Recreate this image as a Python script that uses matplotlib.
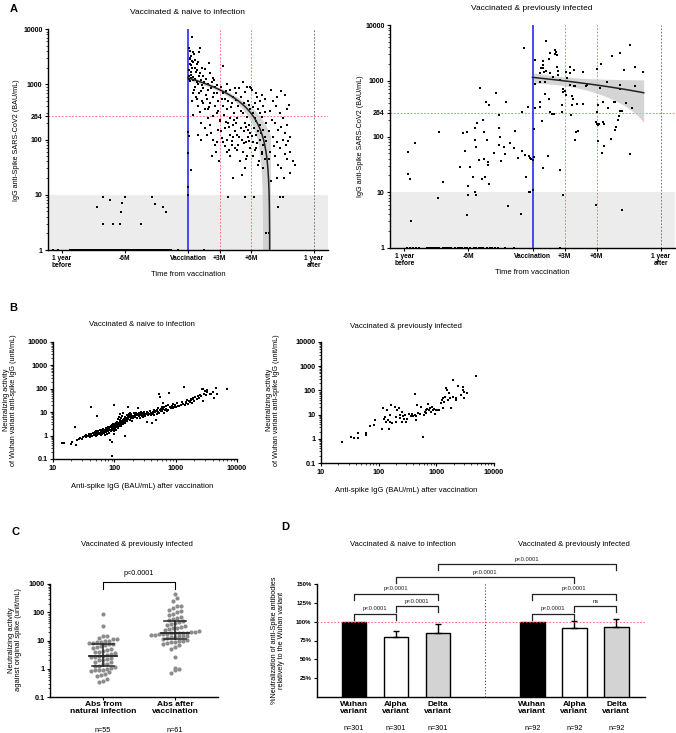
import numpy as np
import matplotlib
matplotlib.use('Agg')
import matplotlib.pyplot as plt
from matplotlib.ticker import LogLocator, NullFormatter
import matplotlib.transforms as mtransforms

plt.rcParams['font.family'] = ['Liberation Sans', 'DejaVu Sans']

# ================= DATA =================
# ---- Panel A : naive to infection (x = months from vaccination, y = IgG BAU/mL)
naive_floor_months = [-12.9, -12.4, -11.2, -11.0, -10.85, -10.7, -10.5, -10.4, -10.2, -10.05, -9.9, -9.8,
                      -9.6, -9.45, -9.3, -9.15, -9.0, -8.9, -8.7, -8.55, -8.4, -8.2, -8.1, -7.95, -7.8,
                      -7.6, -7.5, -7.35, -7.2, -7.0, -6.9, -6.75, -6.6, -6.45, -6.3, -6.2, -6.05, -5.9,
                      -5.75, -5.6, -5.5, -5.35, -5.2, -5.05, -4.9, -4.8, -4.65, -4.5, -4.35, -4.2, -4.05,
                      -3.95, -3.8, -3.65, -3.5, -3.4, -3.25, -3.1, -2.95, -2.8, -2.65, -2.5, -2.35, -2.25,
                      -2.1, -1.95, -1.8, -1.6, -0.95, 1.5]
naive_floor_value = 1.0
naive_low_months = [-8.7, -8.1, -8.1, -7.4, -7.1, -6.4, -6.25, -6.0, -6.5, -4.5, -3.4, -3.15, -2.4, -2.1]
naive_low_values = [5.9, 9, 2.9, 8, 2.9, 4.9, 7, 9, 2.9, 2.9, 9, 6.8, 5.9, 4.9]

naive_post_months = [
    0.35, 0.19, 0.44, 0.29, 0.19, 0.35, 0.5, 0.22, 0.13, 0.32, 0.06, 0.25, 0.5, 0.67, 0.83, 0.0, 0.03, 0.0,
    0.06, 0.03, 0.29, 0.67, 0.5, 0.35,
    0.1, 0.15, 0.25, 0.4, 0.55, 0.65, 0.75, 0.9, 1.0, 0.3, 0.45, 0.05, 0.7, 0.2,
    1.14, 1.05, 0.98, 1.3, 0.83, 1.14, 1.46, 1.24, 0.92, 1.4, 1.08, 0.76, 1.3, 1.46, 0.98, 1.62, 0.5, 1.24,
    0.98, 1.2, 1.94, 0.9, 1.2, 1.35, 0.6, 1.5, 1.1,
    2.0, 2.1, 2.4, 2.25, 2.6, 1.95, 2.75, 2.35, 1.8, 2.9, 2.1, 2.6, 1.95, 2.75, 2.4, 3.0, 2.1, 2.9, 1.8, 2.35,
    2.75, 2.6, 2.3, 2.95, 2.7, 1.6, 1.7, 1.9, 2.2, 2.5, 2.8, 1.75, 2.45, 2.0, 2.85, 1.6, 2.2,
    3.3, 3.7, 4.0, 3.35, 4.3, 3.55, 3.85, 4.15, 3.3, 3.7, 4.4, 3.45, 4.0, 3.05, 3.85, 4.25, 3.5, 3.15, 4.0,
    4.3, 3.75, 3.35, 4.15, 4.5, 3.7, 4.0, 4.3, 3.8, 3.1, 3.6, 4.45, 3.25, 4.05, 4.35, 3.6, 3.95, 4.45, 3.2,
    4.2, 3.5, 3.9,
    5.2, 5.6, 5.95, 4.6, 5.0, 5.75, 5.35, 4.8, 5.9, 5.2, 5.6, 4.7, 5.4, 5.85, 5.0, 5.7, 5.3, 4.65, 5.75, 5.1,
    5.5, 4.8, 5.9, 5.2, 5.65, 4.95, 5.4, 5.15, 5.4, 4.9, 5.45, 4.55, 5.8, 5.05, 4.6, 5.55, 5.95, 4.9, 5.3,
    5.8, 4.7, 5.5,
    6.1, 6.0, 6.5, 7.3, 6.85, 6.35, 7.15, 6.7, 6.2, 7.0, 6.5, 7.4, 6.85, 6.3, 7.15, 6.7, 6.5, 7.3, 6.85, 6.2,
    7.15, 6.5, 7.0, 6.2, 7.3, 6.7, 7.15, 6.3, 7.45, 7.7, 6.6, 7.0, 6.15, 6.9, 7.35, 6.4, 6.95, 6.1, 7.45, 6.6,
    6.35, 7.05, 6.8,
    7.95, 8.9, 9.25, 8.1, 8.4, 9.4, 8.75, 9.05, 8.25, 9.45, 8.6, 9.25, 8.1, 9.0, 8.45, 9.35, 8.75, 9.7, 8.3,
    9.45, 10.0, 10.2, 8.9, 9.7, 8.45, 9.1, 7.95, 8.75, 9.0, 8.6, 8.5, 7.8, 9.6, 8.0, 8.85, 7.7, 9.75, 8.2,
    9.55, 7.85, 9.2, 8.6, 7.75]
naive_post_values = [
    7200, 4000, 3800, 3300, 3000, 2600, 2500, 2300, 1800, 1500, 1400, 1300, 1200, 2000, 1100, 10, 14, 58,
    115, 138, 28, 900, 700, 500,
    4500, 2900, 2200, 2000, 3500, 2700, 1700, 2300, 1400, 1700, 1350, 1250, 1250, 1150,
    4500, 3800, 2500, 2000, 1800, 1600, 1400, 1200, 1000, 850, 700, 600, 500, 450, 400, 350, 280, 200,
    120, 100, 250, 550, 750, 950, 800, 1100, 320,
    2400, 1600, 1300, 1100, 900, 800, 700, 600, 550, 500, 450, 400, 350, 300, 270, 220, 180, 150, 120, 100,
    90, 80, 50, 40, 60, 1900, 1250, 1000, 850, 1200, 950, 650, 700, 380, 330, 160, 130,
    2100, 1000, 800, 700, 600, 550, 500, 450, 400, 350, 300, 280, 250, 230, 200, 180, 160, 140, 120,
    110, 100, 90, 80, 70, 60, 50, 20, 9, 900, 750, 850, 550, 380, 230, 210, 170, 140, 105,
    95, 75, 65,
    1100, 900, 900, 700, 600, 500, 450, 400, 350, 300, 260, 240, 200, 180, 160, 150, 140, 120, 110, 100,
    90, 80, 70, 60, 50, 40, 30, 23, 9, 850, 720, 520, 420, 330, 200, 170, 130, 110, 85,
    95, 65, 45,
    800, 850, 700, 550, 500, 450, 400, 350, 300, 260, 220, 200, 180, 160, 150, 140, 120, 110, 100, 90,
    80, 70, 60, 50, 45, 35, 30, 9, 2, 2, 600, 650, 380, 300, 320, 250, 130, 115, 95, 85,
    65, 55, 40,
    800, 750, 650, 500, 400, 350, 300, 250, 200, 180, 150, 130, 110, 100, 90, 80, 70, 60, 50,
    45, 40, 35, 30, 25, 20, 20, 18, 9, 9, 6, 600, 330, 420, 230, 165, 140, 110, 75,
    95, 60, 55, 35, 45]

# linear regression of post-vaccination titres (naive): intercept, slope, CI parameters
naive_fit = dict(intercept=1300.0, slope=-167.0, x_end=7.85, ci_a=4225.0, ci_b=643.0, ci_xm=3.5)

# ---- Panel A : previously infected
prev_floor_months = [-11.7, -11.5, -11.2, -10.9, -10.6, -9.9, -9.7, -9.5, -9.3, -9.1, -8.9, -8.7, -8.4, -8.2,
                     -8.0, -7.8, -7.6, -7.25, -7.0, -6.8, -6.6, -6.3, -6.1, -5.8, -5.5, -5.3, -5.0, -4.8,
                     -4.6, -4.3, -4.0, -3.8, -3.5, -3.2, -2.6, -1.7, 2.6]
prev_floor_value = 1.0
prev_pre_months = [-11.6, -11.6, -11.5, -11.0, -11.4, -8.7, -8.8, -8.4, -6.75, -6.5, -6.3, -6.15, -6.06, -6.0,
                   -6.15, -5.8, -5.6, -5.4, -5.3, -5.4, -5.4, -5.3, -5.2, -4.9, -5.0, -4.75, -4.6, -4.5,
                   -4.5, -4.4, -4.35, -4.3, -4.2, -4.2, -4.1, -4.1, -3.6, -3.4, -3.1, -3.1, -3.0, -3.1,
                   -2.9, -2.7, -2.6, -2.5, -2.3, -2.1, -1.7, -1.6, -1.4, -1.1, -1.0, -0.94, -0.75, -0.6,
                   -0.66, -0.4, -0.3, -0.25, -0.2, -0.12]
prev_pre_values = [52, 21, 17.5, 78, 3, 120, 7.8, 15, 28, 115, 54, 120, 12.7, 8.8,
                   3.85, 28, 18.7, 10, 8.8, 145, 87, 64, 175, 745, 38, 17.5, 200, 118,
                   39, 19, 415, 87, 35.6, 30.7, 360, 13.8, 51, 600, 247, 140, 100, 71,
                   36.5, 66, 49, 408, 5.7, 76, 62, 123, 42, 4, 56, 270, 3900, 18.7,
                   47, 335, 44, 10, 41, 39]
prev_post_months = [1.22, 0.25, 0.94, 1.0, 1.6, 1.5, 2.1, 2.2, 2.06, 2.3, 0.78, 0.97, 0.72, 1.1, 1.3, 1.66,
                    2.28, 2.38, 2.34, 1.9, 0.72, 1.2, 2.6, 0.19, 3.1, 3.5, 3.47, 3.84, 4.7, 3.25, 2.85,
                    2.81, 3.5, 3.9, 3.84, 4.0, 5.0, 5.1, 6.0, 6.4, 6.3, 7.0, 7.4, 8.2, 9.1, 8.6, 9.6,
                    10.3, 8.2, 8.2, 9.6, 1.2, 0.72, 1.5, 3.0, 3.1, 3.7, 3.8, 3.66, 4.2, 4.7, 2.78, 1.6,
                    1.8, 2.0, 3.6, 2.8, 0.72, 0.25, 0.15, 0.1, 0.0, 0.9, 1.45, 0.97, 2.6, 2.85, 6.15,
                    6.6, 6.0, 7.1, 7.6, 7.7, 8.2, 8.05, 8.0, 8.4, 8.7, 9.3, 5.9, 6.1, 6.0, 6.2, 6.6,
                    6.7, 7.8, 7.7, 7.3, 4.25, 4.1, 4.0, 6.1, 6.7, 6.5, 9.1, 5.9, 8.4, 0.05, -0.3]
prev_post_values = [5200, 2340, 2250, 1900, 3100, 2500, 3500, 3300, 3000, 2900, 1700, 1700, 1350, 1450, 1500,
                    1350, 1800, 1500, 1270, 1180, 960, 960, 1030, 860, 1450, 1740, 1370, 1580, 1430, 1100,
                    710, 640, 830, 800, 800, 800, 820, 840, 1600, 2000, 750, 940, 2800, 3200, 4300, 1550,
                    1800, 1450, 830, 700, 820, 570, 420, 470, 660, 550, 540, 480, 370, 380, 380, 360, 280,
                    250, 250, 240, 270, 340, 330, 135, 43, 38, 186, 45, 27, 25, 9.0, 370,
                    410, 270, 320, 410, 420, 290, 230, 200, 290, 400, 320, 185, 160, 165, 165, 180,
                    170, 150, 130, 90, 125, 118, 87, 83, 68, 50, 48, 5.9, 4.8, 11, 10]
prev_fit = dict(intercept=1150.0, slope=-52.0, x_end=10.4, ci_a=32580.0, ci_b=2780.0, ci_xm=3.0)

a_xticks = [-12, -6, 0, 3, 6, 12]
a_xticklabels = ['1 year\nbefore', '-6M', 'Vaccination', '+3M', '+6M', '1 year\nafter']
a_yticks = [1, 10, 100, 264, 1000, 10000]
a_threshold = 264
a_negative_limit = 10

# ---- Panel B : anti-spike IgG (BAU/mL) vs neutralizing activity (unit/mL)
b_naive_igg = [14, 15, 19.5, 20.5, 23, 23.5, 25, 27, 28, 30, 31, 33, 34, 35, 36, 38, 38, 40, 42, 40,
               42, 44, 45, 46, 48, 49, 50, 50, 52, 52, 53, 55, 55, 56, 58, 58, 60, 60, 62, 62, 64, 65, 66,
               68, 68, 70, 70, 72, 72, 74, 75, 76, 78, 78, 80, 80, 82, 82, 84, 85, 86, 88, 88, 90, 90, 90,
               92, 92, 94, 95, 96, 97, 98, 98, 100, 100, 100, 100,
               102, 104, 105, 106, 108, 110, 110, 112, 114, 115, 116, 118, 120, 120, 122, 124, 125, 126,
               128, 130, 130, 132, 134, 135, 138, 140, 140, 142, 145, 148, 150, 150, 152, 155, 158, 160,
               162, 165, 168, 170, 172, 175, 178, 180, 182, 185, 188, 190, 195, 200, 205, 210, 215, 220,
               225, 230, 235, 240, 245, 250, 255, 260, 265, 270, 275, 280, 285, 290, 295, 300,
               305, 310, 320, 330, 340, 345, 350, 360, 370, 380, 390, 400, 410, 420, 430, 440, 450, 460,
               470, 480, 490, 500, 510, 520, 530, 540, 550, 560, 570, 580, 590, 600, 610, 620, 640, 650,
               670, 690, 700, 720, 740, 760, 790, 800, 830, 860, 890, 920, 950, 980,
               1000, 1050, 1100, 1150, 1200, 1250, 1300, 1380, 1400, 1450, 1500, 1550, 1600, 1650, 1700,
               1750, 1800, 1850, 1900, 1950, 2000, 2100, 2200, 2300, 2400, 2500, 2600, 2700, 2750, 2800,
               2900, 3000, 3100, 3200, 3300, 3600, 3800, 4000, 4200, 4500, 4700, 6800]
b_naive_neut = [0.46, 0.5, 0.45, 0.55, 2.3, 0.4, 0.65, 0.7, 0.8, 0.75, 0.9, 1.0, 0.85, 1.1, 0.95, 1.0, 1.2,
                1.1, 17, 0.9,
                1.2, 1.0, 1.3, 1.1, 1.4, 1.2, 1.0, 1.5, 7.0, 1.3, 1.1, 1.4, 1.6, 1.2, 1.3, 1.7, 1.1, 1.5,
                1.4, 1.8, 1.2, 1.6, 2.0, 1.3, 1.5, 1.8, 1.1, 1.4, 2.1, 1.6, 1.9, 1.2, 2.2, 1.5, 1.7, 2.4,
                1.3, 2.0, 1.8, 0.65, 2.3, 1.5, 2.6, 0.55, 1.9, 2.2, 0.14, 2.8, 1.7, 2.5, 3.0, 2.1, 1.6,
                2.7, 2.4, 21, 3.2, 1.2,
                2.0, 2.9, 3.5, 2.3, 1.8, 2.6, 4.0, 3.1, 2.2, 2.8, 5.0, 3.4, 2.5, 6.5, 3.8, 2.9, 4.5, 8.0,
                3.2, 2.7, 5.5, 4.2, 3.6, 7.0, 3.0, 4.8, 9.0, 3.9, 5.2, 4.4, 3.3, 6.0, 1.0, 4.9, 7.5, 5.6,
                4.1, 6.8, 17, 5.0, 8.5, 6.2, 4.6, 7.2, 9.5, 5.8, 6.6, 8.0, 4.3, 7.0, 5.4, 8.8, 6.4, 7.8,
                9.0, 5.9, 7.4, 8.2, 15, 6.7, 9.2, 7.6, 5.6, 8.6, 10, 7.1, 9.4, 6.2, 8.0, 10.5,
                7.5, 9.0, 6.8, 8.4, 10, 4.0, 7.7, 9.6, 8.1, 11, 7.3, 9.2, 3.5, 8.5, 10.5, 12, 7.8, 9.8,
                4.5, 11.5, 8.7, 13, 10, 15, 9.3, 60, 12, 46, 10.8, 14, 17, 11.5, 25, 13.5, 9.5, 16,
                12.5, 18, 14, 11, 20, 13, 69, 16.5, 15, 19, 14.5, 22, 17, 20,
                16, 24, 19, 18, 21, 26, 22, 115, 20, 28, 24, 33, 23, 30, 27,
                36, 32, 25, 40, 35, 30, 45, 38, 50, 42, 55, 48, 100, 30, 95,
                60, 80, 52, 90, 70, 62, 58, 75, 40, 110, 60, 100]
b_prev_igg = [23, 33, 38, 44, 44, 60, 60, 72, 83, 112, 118, 122, 130, 134, 142, 145, 150, 160, 160, 165,
              170, 190, 196, 196, 223, 230, 238, 250, 263, 273, 285, 300, 334, 358, 380, 390, 427, 427,
              450, 470, 490, 515, 590, 640, 655, 670, 700, 730, 750, 770, 800, 860, 920, 960, 1050,
              1120, 1200, 1250, 1280, 1370, 1430, 1470, 1510, 1570, 1670, 1720, 1800, 1930, 1970, 2150,
              2350, 2850, 2950, 3000, 3050, 3350, 4900,
              87, 210, 255, 310, 440, 535, 610, 830, 990, 1300, 2200, 2700]
b_prev_neut = [0.74, 1.2, 1.1, 1.1, 1.8, 1.8, 1.4, 3.4, 3.8, 2.6, 18, 6.5, 8, 5, 16, 5.8, 2.6, 9.5, 5,
               26, 4.6, 21, 8.2, 5, 18.5, 9.5, 7, 13, 8.7, 6.5, 9.5, 5, 11, 8.7, 10.5, 8.7, 71, 9.5,
               8.7, 25, 12, 10.5, 1.2, 13, 16, 12, 17.5, 27, 15, 19.5, 13, 16, 17.5, 11, 15,
               16, 29, 40, 47, 34, 55, 120, 100, 42, 75, 47, 18, 270, 52, 47,
               150, 135, 100, 90, 50, 80, 400,
               6, 15, 4.8, 6.7, 6, 21, 9.5, 21, 15, 19, 40, 65]

# ---- Panel C : neutralizing activity against original spike (previously infected)
c_groups = ['Abs from\nnatural infection', 'Abs after\nvaccination']
c_n_labels = ['n=55', 'n=61']
c_natural = [0.35, 0.38, 0.45, 0.55, 0.6, 0.65, 0.75, 0.85, 0.9, 0.9, 0.9, 0.95, 1.1, 1.2,
             1.25, 1.3, 1.5, 1.5, 1.7, 1.8, 2.0, 2.1, 2.3, 2.5, 2.6, 2.7, 2.8, 2.8,
             3.0, 3.2, 3.5, 3.8, 4.0, 4.2, 4.5, 5.0, 5.5, 6.0, 6.5, 7.0, 7.5,
             7.5, 8, 8, 8.5, 9, 10, 10, 11, 11, 12, 14, 15, 32, 90]
c_vaccination = [0.7, 0.9, 1.0, 1.1, 2.6, 5, 6, 7, 7.5, 8, 8.5, 9, 9.5, 10, 10.5,
                 11, 12, 13, 13, 14, 15, 15, 16, 16, 17, 17, 17, 18, 18, 18, 18,
                 19, 20, 20, 22, 24, 25, 27, 28, 30, 32, 35, 38, 40, 45, 50,
                 55, 60, 65, 70, 80, 90, 100, 110, 120, 140, 160, 170, 250, 320, 450]
c_pvalue = 'p<0.0001'

# ---- Panel D : % neutralization relative to Wuhan variant
d_variants = ['Wuhan\nvariant', 'Alpha\nvariant', 'Delta\nvariant'] * 2
d_n = ['n=301', 'n=301', 'n=301', 'n=92', 'n=92', 'n=92']
d_means = [100, 80, 85, 100, 91.5, 93.5]
d_err_up = [0, 7, 12.5, 0, 9.5, 10.5]
d_colors = ['black', 'white', '#d3d3d3', 'black', 'white', '#d3d3d3']
d_brackets = [(0, 1, 110, 'p<0.0001'), (1, 2, 120.6, 'p<0.0001'), (0, 2, 136.6, 'p<0.0001'),
              (1, 4, 158.7, 'p<0.0001'), (2, 5, 176, 'p<0.0001'),
              (3, 4, 110, 'p<0.0001'), (4, 5, 120.6, 'ns'), (3, 5, 136.6, 'p<0.0001')]
d_yticks = [25, 50, 75, 100, 125, 150]

# ================= FIGURE =================
W, H = 676, 733
fig = plt.figure(figsize=(W / 100, H / 100), dpi=100)
DOT = (0, (2.2, 2.2))
RED = '#ff5050'


def ax_px(x0, y0, x1, y1):
    return fig.add_axes([x0 / W, 1 - y1 / H, (x1 - x0) / W, (y1 - y0) / H])


def ftext(x, y, s, **kw):
    fig.text(x / W, 1 - y / H, s, **kw)


def base_style(ax, labelsize=5):
    for s in ('top', 'right'):
        ax.spines[s].set_visible(False)
    for s in ('left', 'bottom'):
        ax.spines[s].set_linewidth(1.0)
    ax.tick_params(which='major', length=2.5, width=0.8, labelsize=labelsize, pad=1.5)
    ax.tick_params(which='minor', length=1.3, width=0.5)


def bold_ticks(ax):
    for t in ax.get_xticklabels() + ax.get_yticklabels():
        t.set_fontweight('bold')


def log_minor(axis):
    axis.set_minor_locator(LogLocator(base=10, subs=np.arange(2, 10)))
    axis.set_minor_formatter(NullFormatter())


def panel_a(ax, floor_m, floor_v, pre_m, pre_v, post_m, post_v, fit):
    ax.set_yscale('log')
    ax.set_xlim(-13.33, 13.33)
    ax.set_ylim(1, 10000)
    ax.axhspan(1, a_negative_limit, color='#ececec', lw=0, zorder=0)
    ax.axhline(a_threshold, color=RED, ls=DOT, lw=0.55, zorder=1)
    for m in (3, 6):
        ax.axvline(m, color=RED, ls=DOT, lw=0.55, zorder=1)
    ax.axvline(12, color='#555555', ls=DOT, lw=0.55, zorder=1)
    ax.axvline(0, color='#3a3aff', lw=1.3, zorder=2)
    # fit + CI band
    xs = np.linspace(0, fit['x_end'], 300)
    ys = fit['intercept'] + fit['slope'] * xs
    hw = np.sqrt(fit['ci_a'] + fit['ci_b'] * (xs - fit['ci_xm']) ** 2)
    ax.fill_between(xs, np.maximum(ys - hw, 0.01), np.maximum(ys + hw, 0.01),
                    color='#c8c8c8', alpha=0.75, lw=0, zorder=1.5)
    ax.plot(xs, np.maximum(ys, 0.01), color='#222222', lw=1.1, zorder=4)
    kw = dict(s=3.2, marker='s', color='black', linewidths=0, zorder=3, clip_on=False)
    ax.scatter(floor_m, [floor_v] * len(floor_m), **kw)
    ax.scatter(pre_m, pre_v, **kw)
    ax.scatter(post_m, post_v, **kw)
    base_style(ax)
    ax.set_yticks(a_yticks)
    ax.set_yticklabels([str(v) for v in a_yticks])
    log_minor(ax.yaxis)
    ax.set_xticks(a_xticks)
    ax.set_xticklabels(a_xticklabels, fontsize=4.8, linespacing=1.0)
    ax.tick_params(axis='x', length=2.0)
    bold_ticks(ax)


axA1 = ax_px(48, 29, 328, 250)
panel_a(axA1, naive_floor_months, naive_floor_value, naive_low_months, naive_low_values,
        naive_post_months, naive_post_values, naive_fit)
axA2 = ax_px(390, 25, 675, 248)
panel_a(axA2, prev_floor_months, prev_floor_value, prev_pre_months, prev_pre_values,
        prev_post_months, prev_post_values, prev_fit)

ftext(14, 9, 'A', fontsize=8, fontweight='bold', ha='center', va='center')
ftext(188, 13, 'Vaccinated & naive to infection', fontsize=6, ha='center', va='center')
ftext(532, 9, 'Vaccinated & previously infected', fontsize=6, ha='center', va='center')
for x, y in ((17, 140), (361, 136)):
    ftext(x, y, 'IgG anti-Spike SARS-CoV2 (BAU/mL)', fontsize=5.2, rotation=90, ha='center', va='center')
ftext(188, 274, 'Time from vaccination', fontsize=5.5, ha='center', va='center')
ftext(532, 273, 'Time from vaccination', fontsize=5.5, ha='center', va='center')


# ---- Panel B
def panel_b(ax, xs, ys):
    ax.set_xscale('log')
    ax.set_yscale('log')
    ax.set_xlim(10, 10000)
    ax.set_ylim(0.1, 10000)
    ax.scatter(xs, ys, s=3.2, marker='s', color='black', linewidths=0, zorder=3, clip_on=False)
    base_style(ax, labelsize=5.2)
    ax.set_xticks([10, 100, 1000, 10000])
    ax.set_xticklabels(['10', '100', '1000', '10000'])
    ax.set_yticks([0.1, 1, 10, 100, 1000, 10000])
    ax.set_yticklabels(['0.1', '1', '10', '100', '1000', '10000'])
    log_minor(ax.xaxis)
    log_minor(ax.yaxis)
    bold_ticks(ax)


axB1 = ax_px(53, 342, 237, 459)
panel_b(axB1, b_naive_igg, b_naive_neut)
axB2 = ax_px(321, 342, 494, 463)
panel_b(axB2, b_prev_igg, b_prev_neut)
ftext(13, 308, 'B', fontsize=8, fontweight='bold', ha='center', va='center')
ftext(142, 324, 'Vaccinated & naive to infection', fontsize=5.6, ha='center', va='center')
ftext(406, 327, 'Vaccinated & previously infected', fontsize=5.6, ha='center', va='center')
for x in (10, 273):
    ftext(x, 400, 'Neutralizing activity\nof Wuhan variant anti-spike IgG (unit/mL)', fontsize=5.2,
          rotation=90, ha='center', va='center', linespacing=1.1)
ftext(142, 487, 'Anti-spike IgG (BAU/mL) after vaccination', fontsize=5.5, ha='center', va='center')
ftext(406, 490, 'Anti-spike IgG (BAU/mL) after vaccination', fontsize=5.5, ha='center', va='center')

# ---- Panel C
axC = ax_px(50, 584, 218, 697)
axC.set_yscale('log')
axC.set_ylim(0.1, 1000)
axC.set_xlim(-0.74, 1.6)
C_PX_PER_DEC = 113 / 4.0
C_PX_PER_UNIT = 72.0


def row_swarm(vals, row_h, dx):
    """GraphPad-like layout: points grouped into horizontal rows of height row_h px."""
    ys = np.log10(np.asarray(vals, float)) * C_PX_PER_DEC
    order = np.argsort(ys)
    xs = np.zeros(len(ys))
    rows = []
    for i in order:
        if rows and ys[i] - ys[rows[-1][0]] < row_h:
            rows[-1].append(i)
        else:
            rows.append([i])
    for r in rows:
        n = len(r)
        for k, i in enumerate(r):
            xs[i] = (k - (n - 1) / 2.0) * dx
    return xs / C_PX_PER_UNIT


for gi, vals in enumerate((c_natural, c_vaccination)):
    offs = row_swarm(vals, 4.4, 4.0)
    axC.scatter(gi + offs, vals, s=9, color='#8c8c8c', linewidths=0, zorder=3)
    med = np.median(vals)
    q1, q3 = np.percentile(vals, [25, 75])
    axC.plot([gi - 0.2, gi + 0.2], [med, med], color='#222222', lw=1.3, zorder=4)
    axC.plot([gi, gi], [q1, q3], color='#222222', lw=1.1, zorder=4)
    for q in (q1, q3):
        axC.plot([gi - 0.155, gi + 0.155], [q, q], color='#222222', lw=1.1, zorder=4)
# significance bracket
axC.plot([0, 0, 1, 1], [650, 1180, 1180, 650], color='black', lw=0.8, clip_on=False)
axC.text(0.5, 1750, c_pvalue, fontsize=5.2, ha='center', va='bottom')
base_style(axC, labelsize=5.2)
axC.set_yticks([0.1, 1, 10, 100, 1000])
axC.set_yticklabels(['0.1', '1', '10', '100', '1000'])
log_minor(axC.yaxis)
axC.set_xticks([0, 1])
axC.set_xticklabels(['', ''])
bold_ticks(axC)
tC = mtransforms.blended_transform_factory(axC.transData, axC.transAxes)
for gi in range(2):
    axC.text(gi, (697 - 701) / 113, c_groups[gi], transform=tC, fontsize=6, fontweight='bold',
             ha='center', va='top', linespacing=1.05)
    axC.text(gi, (697 - 731) / 113, c_n_labels[gi], transform=tC, fontsize=5.2, ha='center', va='center')
ftext(15, 532, 'C', fontsize=8, fontweight='bold', ha='center', va='center')
ftext(137, 544, 'Vaccinated & previously infected', fontsize=5.6, ha='center', va='center')
ftext(15, 640, 'Neutralizing activity\nagainst original spike (unit/mL)', fontsize=5.4,
      rotation=90, ha='center', va='center', linespacing=1.1)

# ---- Panel D
axD = ax_px(317, 584, 645, 697)
d_pos = [0, 1, 2, 4.25, 5.25, 6.25]
axD.set_xlim(-0.88, 6.93)
axD.set_ylim(0, 150)
axD.bar(d_pos, d_means, width=0.58, color=d_colors, edgecolor='black', linewidth=1.0, zorder=3)
for p, m, e in zip(d_pos, d_means, d_err_up):
    if e > 0:
        axD.errorbar([p], [m], yerr=[[0], [e]], fmt='none', ecolor='black', elinewidth=1.0,
                     capsize=2.3, capthick=1.0, zorder=4)
axD.axhline(100, color=RED, ls=DOT, lw=0.55, zorder=5)
axD.plot([3.125, 3.125], [0, 152], color='#444444', ls=(0, (1.2, 2.0)), lw=0.7, clip_on=False)
for i1, i2, y, txt in d_brackets:
    x1, x2 = d_pos[i1], d_pos[i2]
    axD.plot([x1, x1, x2, x2], [y - 7.8, y, y, y - 7.8], color='#222222', lw=0.9, clip_on=False)
    axD.text((x1 + x2) / 2, y + 3.5, txt, fontsize=4.2, ha='center', va='bottom', color='#222222')
base_style(axD, labelsize=4.3)
axD.set_yticks(d_yticks)
axD.set_yticklabels(['%d%%' % v for v in d_yticks])
axD.set_xticks([])
bold_ticks(axD)
tD = mtransforms.blended_transform_factory(axD.transData, axD.transAxes)
for p, lab, n in zip(d_pos, d_variants, d_n):
    axD.text(p, (697 - 701) / 113, lab, transform=tD, fontsize=6, fontweight='bold',
             ha='center', va='top', linespacing=1.05)
    axD.text(p, (697 - 729) / 113, n, transform=tD, fontsize=5.2, ha='center', va='center')
ftext(285, 527, 'D', fontsize=8, fontweight='bold', ha='center', va='center')
ftext(403, 544, 'Vaccinated & naive to infection', fontsize=5.6, ha='center', va='center')
ftext(574, 544, 'Vaccinated & previously infected', fontsize=5.6, ha='center', va='center')
ftext(278, 640, '%Neutralization of anti-Spike antibodies\nrelatively to the Wuhan variant',
      fontsize=5.2, rotation=90, ha='center', va='center', linespacing=1.1)

fig.savefig('out.png', dpi=100)
